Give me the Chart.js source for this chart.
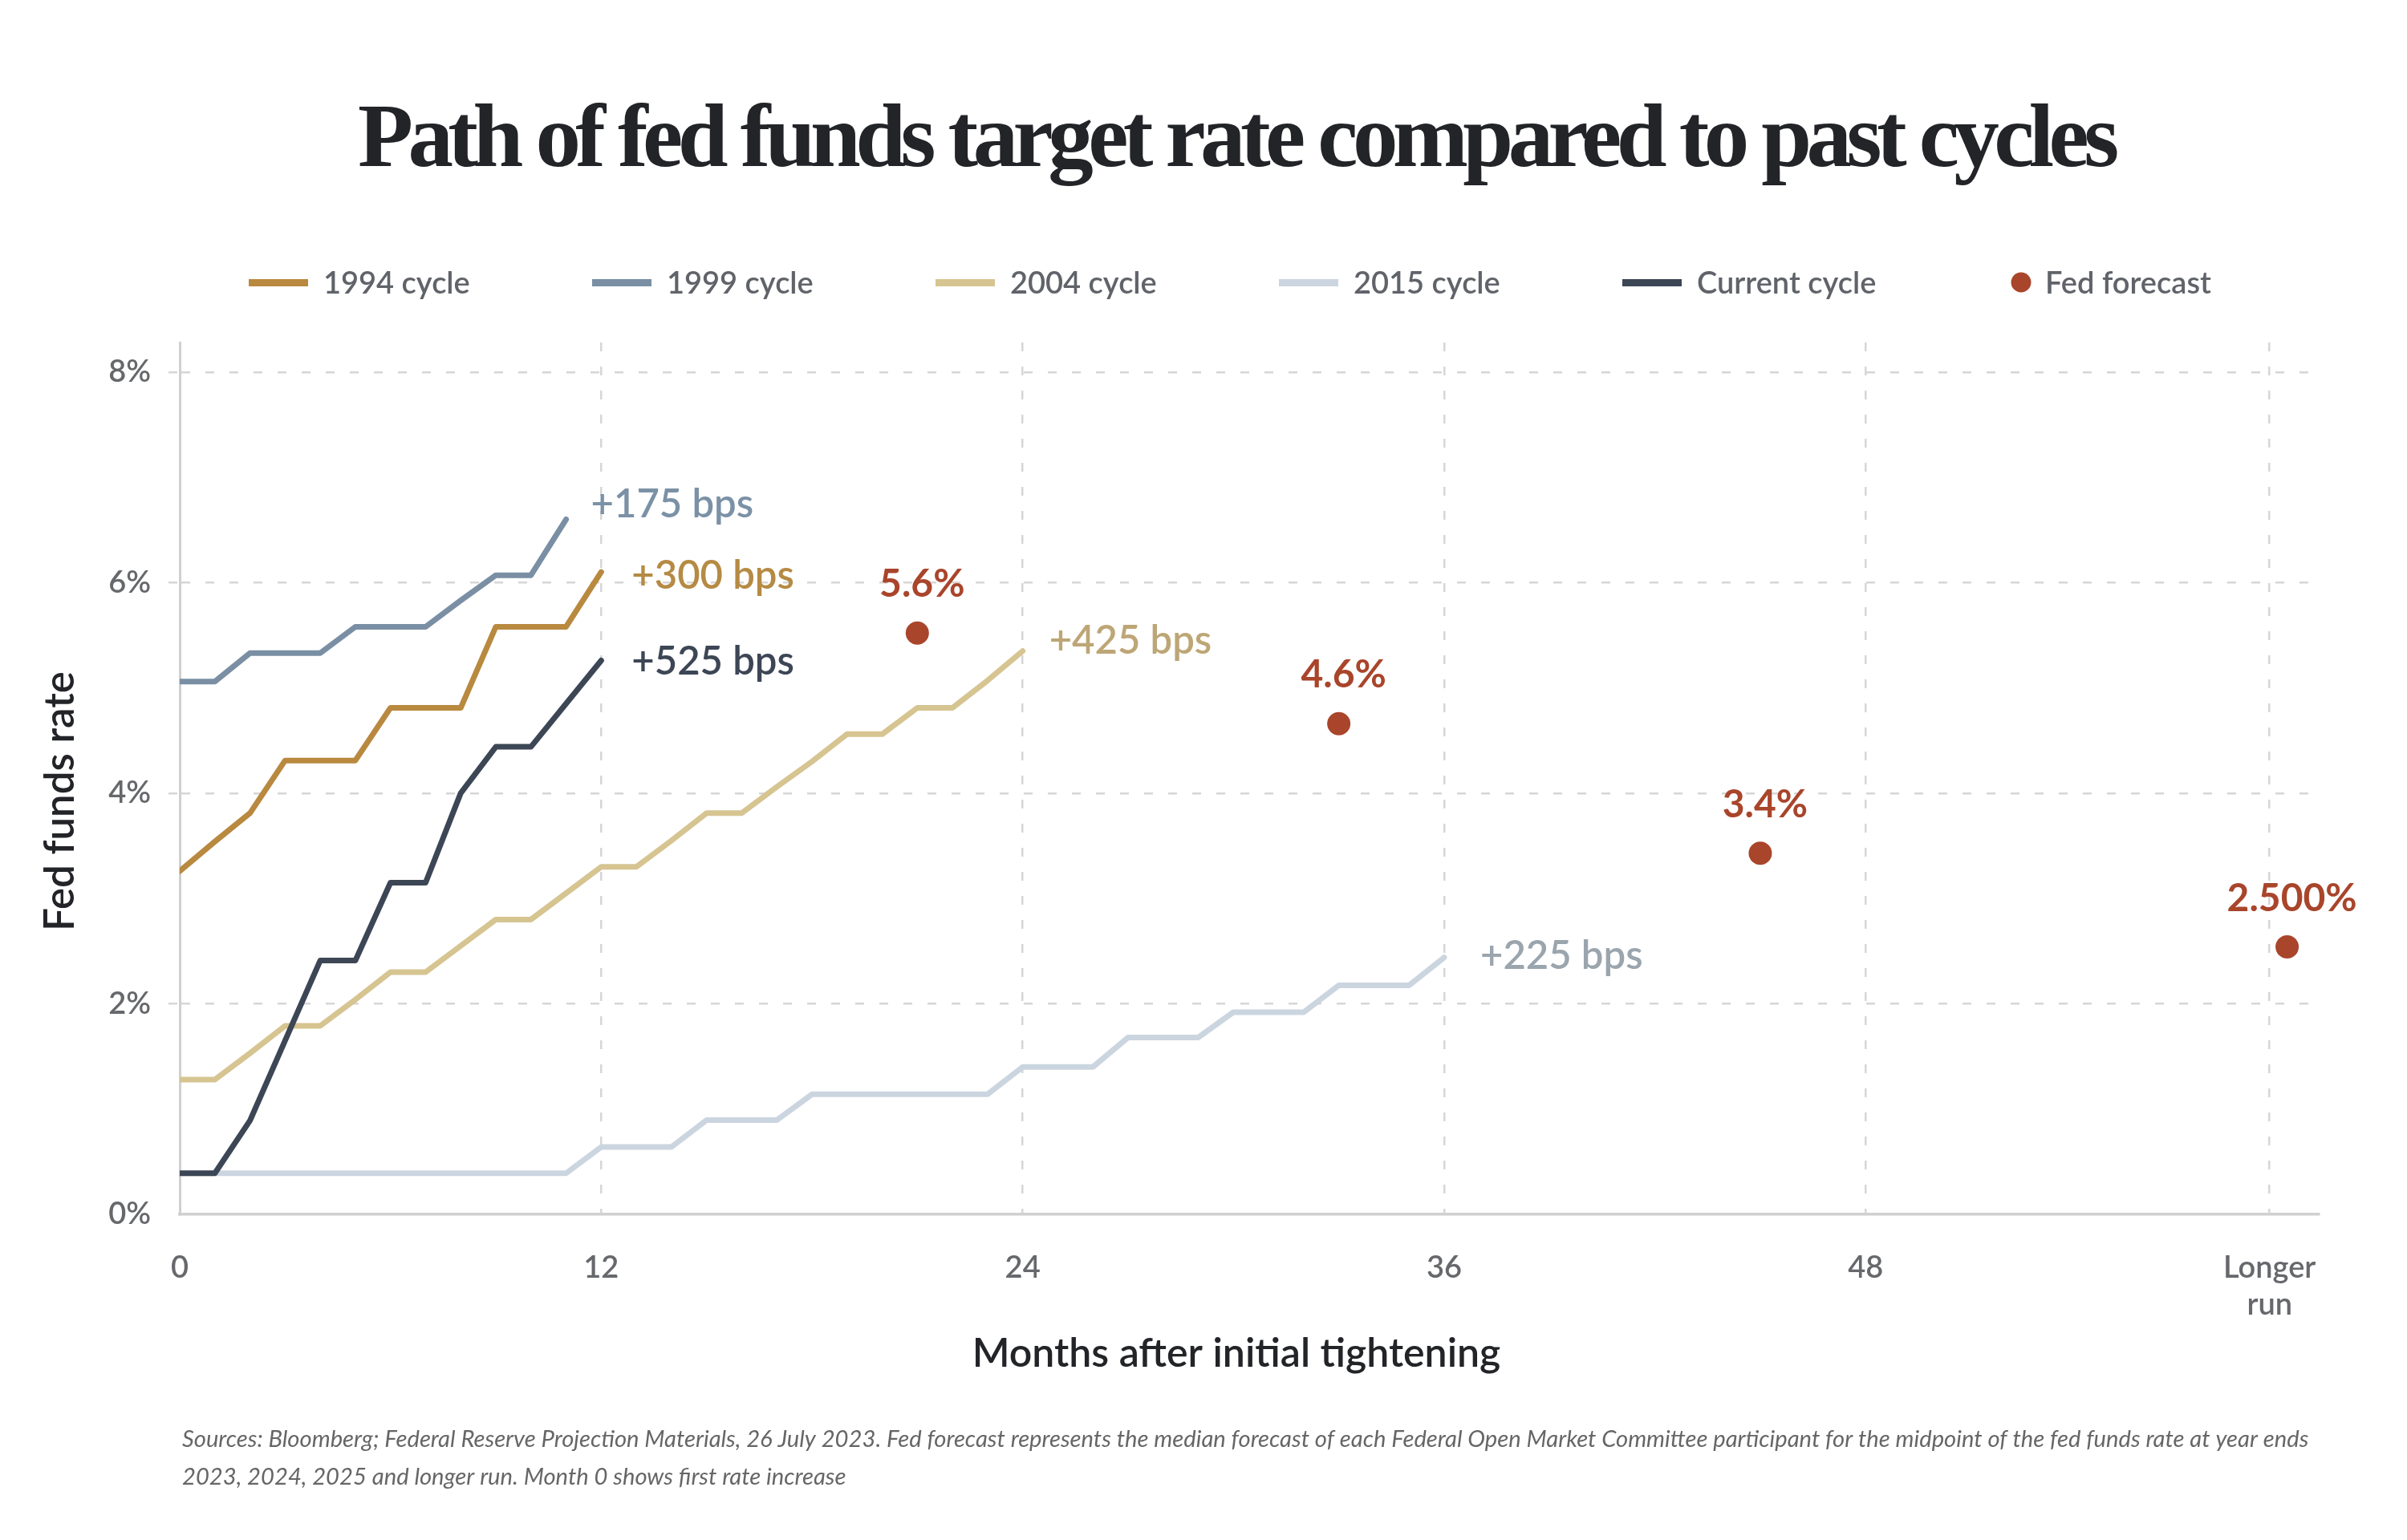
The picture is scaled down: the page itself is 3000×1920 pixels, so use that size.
<!DOCTYPE html>
<html>
<head>
<meta charset="utf-8">
<script src="https://cdn.jsdelivr.net/npm/chart.js@4.4.0/dist/chart.umd.min.js"></script>
<style>
html,body{margin:0;padding:0;background:#ffffff;}
canvas{display:block;}
</style>
</head>
<body>
<canvas id="c" width="3000" height="1920" style="width:3000px;height:1920px"></canvas>
<script>
// ---------- DATA ----------
const titleText = "Path of fed funds target rate compared to past cycles";
const footnoteLines = [
  "Sources: Bloomberg; Federal Reserve Projection Materials, 26 July 2023. Fed forecast represents the median forecast of each Federal Open Market Committee participant for the midpoint of the fed funds rate at year ends",
  "2023, 2024, 2025 and longer run. Month 0 shows first rate increase"
];
const yAxisTitle = "Fed funds rate";
const xAxisTitle = "Months after initial tightening";

const seriesNames = ["1994 cycle", "1999 cycle", "2004 cycle", "2015 cycle", "Current cycle", "Fed forecast"];

// monthly values, index = months after initial tightening
const values1994 = [3.26, 3.54, 3.81, 4.31, 4.31, 4.31, 4.81, 4.81, 4.81, 5.58, 5.58, 5.58, 6.10];
const values1999 = [5.06, 5.06, 5.33, 5.33, 5.33, 5.58, 5.58, 5.58, 5.83, 6.07, 6.07, 6.60];
const values2004 = [1.28, 1.28, 1.53, 1.79, 1.79, 2.04, 2.30, 2.30, 2.55, 2.80, 2.80, 3.05, 3.30,
                    3.30, 3.55, 3.81, 3.81, 4.06, 4.30, 4.56, 4.56, 4.81, 4.81, 5.07, 5.35];
const values2015 = [0.39, 0.39, 0.39, 0.39, 0.39, 0.39, 0.39, 0.39, 0.39, 0.39, 0.39, 0.39,
                    0.64, 0.64, 0.64, 0.895, 0.895, 0.895, 1.14, 1.14, 1.14, 1.14, 1.14, 1.14,
                    1.40, 1.40, 1.40, 1.68, 1.68, 1.68, 1.92, 1.92, 1.92, 2.175, 2.175, 2.175, 2.44];
const valuesCurrent = [0.39, 0.39, 0.89, 1.65, 2.41, 2.41, 3.15, 3.15, 4.00, 4.44, 4.44, 4.85, 5.26];

const forecastMonths = [21, 33, 45, 60];
const forecastValues = [5.52, 4.66, 3.43, 2.54];
const forecastLabels = ["5.6%", "4.6%", "3.4%", "2.500%"];

const endLabels = {"1994 cycle": "+300 bps", "1999 cycle": "+175 bps", "2004 cycle": "+425 bps",
                   "2015 cycle": "+225 bps", "Current cycle": "+525 bps"};

const xTickValues = [0, 12, 24, 36, 48, 59.5];
const xTickLabels = ["0", "12", "24", "36", "48", ["Longer", "run"]];
const yTickValues = [0, 2, 4, 6, 8];
const yTickLabels = ["0%", "2%", "4%", "6%", "8%"];

// ---------- STYLE ----------
const colors = {
  "1994 cycle": "#b8893f",
  "1999 cycle": "#7a8fa4",
  "2004 cycle": "#d6c491",
  "2015 cycle": "#cbd5e0",
  "Current cycle": "#3c4655",
  "Fed forecast": "#a9452b"
};
const endLabelColors = {
  "1994 cycle": "#b58a43", "1999 cycle": "#7b91a6", "2004 cycle": "#bda676",
  "2015 cycle": "#9ba5ae", "Current cycle": "#3d4655"
};
// label offsets from the last point of each line (dx, baseline dy)
const endLabelOffsets = {
  "1994 cycle": [38, 21], "1999 cycle": [31, -3], "2004 cycle": [33, 3],
  "2015 cycle": [45, 14], "Current cycle": [38, 18]
};
const drawOrder = {"Fed forecast": 0, "Current cycle": 1, "1994 cycle": 2, "1999 cycle": 3, "2004 cycle": 4, "2015 cycle": 5};

const FONT = "Lato, 'Noto Sans', sans-serif";
const GRID = "#d6d6d6";
const AXIS = "#d0d0d0";

const toPoints = vals => vals.map((v, i) => ({x: i, y: v}));
const lineSeries = {
  "1994 cycle": values1994, "1999 cycle": values1999, "2004 cycle": values2004,
  "2015 cycle": values2015, "Current cycle": valuesCurrent
};

const datasets = seriesNames.filter(n => n !== "Fed forecast").map(name => ({
  type: 'line',
  label: name,
  data: toPoints(lineSeries[name]),
  borderColor: colors[name],
  backgroundColor: colors[name],
  borderWidth: 7,
  borderCapStyle: 'round',
  borderJoinStyle: 'round',
  pointRadius: 0,
  tension: 0,
  fill: false,
  order: drawOrder[name],
  endLabel: endLabels[name]
}));
datasets.push({
  type: 'scatter',
  label: "Fed forecast",
  data: forecastMonths.map((m, i) => ({x: m, y: forecastValues[i]})),
  backgroundColor: colors["Fed forecast"],
  borderWidth: 0,
  pointRadius: 14.5,
  pointHoverRadius: 14.5,
  order: drawOrder["Fed forecast"],
  pointLabels: forecastLabels
});

// ---------- DECORATION PLUGIN ----------
const decor = {
  id: 'decor',
  afterDatasetsDraw(chart) {
    const ctx = chart.ctx;
    chart.data.datasets.forEach((ds, i) => {
      const meta = chart.getDatasetMeta(i);
      if (ds.endLabel) {
        const el = meta.data[meta.data.length - 1];
        const off = endLabelOffsets[ds.label];
        ctx.save();
        ctx.font = "600 49px " + FONT;
        ctx.fillStyle = endLabelColors[ds.label];
        ctx.textAlign = 'left';
        ctx.textBaseline = 'alphabetic';
        ctx.fillText(ds.endLabel, el.x + off[0], el.y + off[1]);
        ctx.restore();
      }
      if (ds.pointLabels) {
        ctx.save();
        ctx.font = "700 48px " + FONT;
        ctx.fillStyle = colors[ds.label];
        ctx.textAlign = 'center';
        ctx.textBaseline = 'alphabetic';
        meta.data.forEach((el, j) => {
          ctx.fillText(ds.pointLabels[j], el.x + 6, el.y - 45);
        });
        ctx.restore();
      }
    });
  },
  afterDraw(chart) {
    const ctx = chart.ctx;
    // Title
    ctx.save();
    ctx.fillStyle = "#222428";
    ctx.textAlign = 'center';
    ctx.textBaseline = 'alphabetic';
    ctx.font = "700 113px 'Liberation Serif', 'DejaVu Serif', serif";
    const targetW = 2195;
    let w = ctx.measureText(titleText).width;
    if ('letterSpacing' in ctx) {
      const sp = Math.max(-12, Math.min(4, (targetW - w) / (titleText.length - 1)));
      ctx.letterSpacing = sp.toFixed(2) + "px";
      ctx.fillText(titleText, 1537 - sp / 2, 207);
    } else {
      ctx.fillText(titleText, 1537, 207, targetW);
    }
    ctx.restore();

    // Legend
    ctx.save();
    ctx.font = "600 38px " + FONT;
    ctx.textBaseline = 'alphabetic';
    ctx.textAlign = 'left';
    seriesNames.forEach((name, i) => {
      const x0 = 310 + i * 428;
      ctx.fillStyle = colors[name];
      if (name === "Fed forecast") {
        ctx.beginPath();
        ctx.arc(2519, 352, 12.5, 0, Math.PI * 2);
        ctx.fill();
        ctx.fillStyle = "#606369";
        ctx.fillText(name, 2549, 366);
      } else {
        ctx.fillRect(x0, 348, 74, 9);
        ctx.fillStyle = "#606369";
        ctx.fillText(name, x0 + 93, 366);
      }
    });
    ctx.restore();

    // Axis titles
    ctx.save();
    ctx.fillStyle = "#222428";
    ctx.font = "600 51px " + FONT;
    ctx.textAlign = 'center';
    ctx.textBaseline = 'alphabetic';
    ctx.translate(92, 999);
    ctx.rotate(-Math.PI / 2);
    ctx.fillText(yAxisTitle, 0, 0);
    ctx.restore();

    ctx.save();
    ctx.fillStyle = "#222428";
    ctx.font = "600 50px " + FONT;
    ctx.textAlign = 'center';
    ctx.textBaseline = 'alphabetic';
    ctx.fillText(xAxisTitle, 1541, 1704);
    ctx.restore();

    // Footnote
    ctx.save();
    ctx.fillStyle = "#666666";
    let fs = 27;
    ctx.font = "italic 400 " + fs + "px " + FONT;
    const fw = ctx.measureText(footnoteLines[0]).width;
    fs = Math.max(23, Math.min(31, fs * 2651 / fw));
    ctx.font = "italic 400 " + fs.toFixed(2) + "px " + FONT;
    ctx.textAlign = 'left';
    ctx.textBaseline = 'alphabetic';
    ctx.fillText(footnoteLines[0], 227, 1804);
    ctx.fillText(footnoteLines[1], 227, 1851);
    ctx.restore();
  }
};

// ---------- CHART ----------
const PAD_BOTTOM = 100;
new Chart(document.getElementById('c'), {
  data: {datasets},
  options: {
    responsive: false,
    devicePixelRatio: 1,
    animation: false,
    events: [],
    layout: {padding: {top: 427, right: 110, bottom: PAD_BOTTOM, left: 0}},
    plugins: {legend: {display: false}, tooltip: {enabled: false}, title: {display: false}},
    scales: {
      x: {
        type: 'linear',
        min: 0,
        max: 60.9,
        afterBuildTicks: s => { s.ticks = xTickValues.map(v => ({value: v})); },
        afterFit: s => { s.height = 1920 - PAD_BOTTOM - 1514; },
        ticks: {
          autoSkip: false,
          maxRotation: 0,
          padding: 44,
          color: "#66686c",
          font: {family: FONT, size: 38, weight: '600', lineHeight: 1.2},
          callback: (v, i) => xTickLabels[i]
        },
        grid: {
          color: c => (c.tick && c.tick.value === 0) ? 'rgba(0,0,0,0)' : GRID,
          lineWidth: 2.5,
          drawTicks: false
        },
        border: {display: true, color: AXIS, width: 3.5, dash: [11, 19]}
      },
      y: {
        type: 'linear',
        min: 0,
        max: 8.28,
        afterBuildTicks: s => { s.ticks = yTickValues.map(v => ({value: v})); },
        afterFit: s => { s.width = 224; },
        ticks: {
          padding: 22,
          color: "#66686c",
          font: {family: FONT, size: 38, weight: '600'},
          callback: (v, i) => yTickLabels[i]
        },
        grid: {
          color: c => (c.tick && c.tick.value === 0) ? 'rgba(0,0,0,0)' : GRID,
          lineWidth: 2.5,
          drawTicks: true,
          tickLength: 14,
          tickBorderDash: [11, 19]
        },
        border: {display: true, color: AXIS, width: 3, dash: [11, 19]}
      }
    }
  },
  plugins: [decor]
});
</script>
</body>
</html>
